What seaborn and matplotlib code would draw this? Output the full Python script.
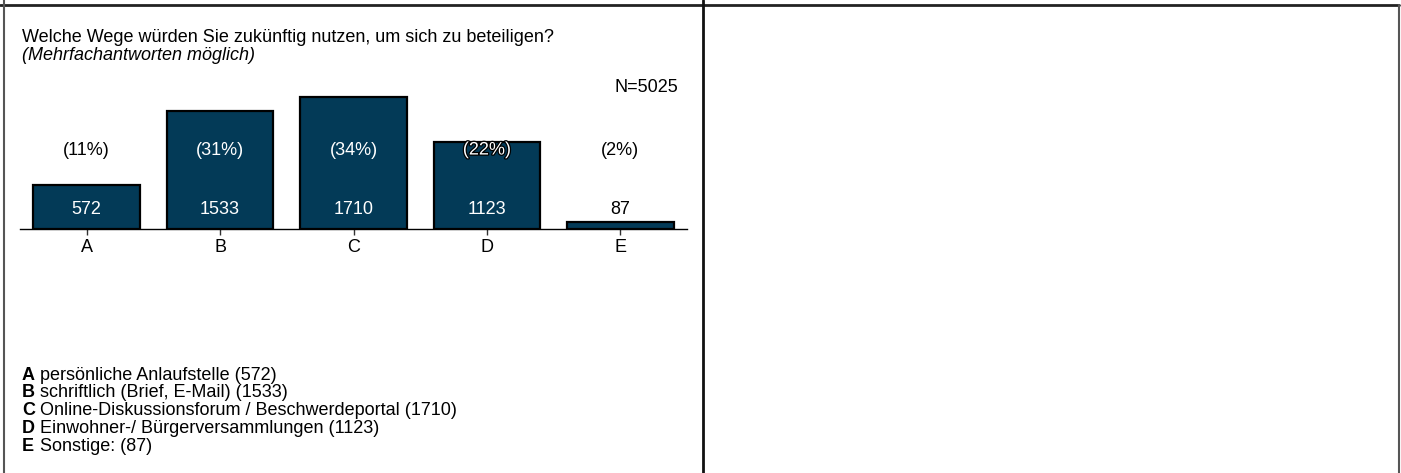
import matplotlib
matplotlib.use("Agg")
import matplotlib.pyplot as plt
import matplotlib.patheffects as pe
import seaborn as sns
import pandas as pd

# ---- data ----
categories = ["A", "B", "C", "D", "E"]
counts = [572, 1533, 1710, 1123, 87]
percent_labels = ["(11%)", "(31%)", "(34%)", "(22%)", "(2%)"]
descriptions = [
    "persönliche Anlaufstelle (572)",
    "schriftlich (Brief, E-Mail) (1533)",
    "Online-Diskussionsforum / Beschwerdeportal (1710)",
    "Einwohner-/ Bürgerversammlungen (1123)",
    "Sonstige: (87)",
]
title_text = "Welche Wege würden Sie zukünftig nutzen, um sich zu beteiligen?"
subtitle_text = "(Mehrfachantworten möglich)"
n_text = "N=5025"

sns.set_theme(style="white")
plt.rcParams["font.family"] = ["Liberation Sans", "DejaVu Sans"]
FS = 13

W, H = 1401, 473
fig = plt.figure(figsize=(W / 100, H / 100), dpi=100)

def fx(px):
    return px / W

def fy(py):
    return 1 - py / H

# frame lines
lines = [
    ((0, W - 2), (5, 5), "#222222", 2.0),
    ((4, 4), (0, H), "#555555", 1.5),
    ((703, 703), (0, H), "#111111", 2.0),
    ((W - 2, W - 2), (5, H), "#555555", 1.5),
]
for (x0, x1), (y0, y1), c, lw in lines:
    fig.add_artist(plt.Line2D([fx(x0), fx(x1)], [fy(y0), fy(y1)],
                              transform=fig.transFigure, color=c, lw=lw))

# axes
ax_left, ax_right = 20, 687
ax_bottom, ax_top = 229, 80
ax = fig.add_axes([fx(ax_left), fy(ax_bottom), fx(ax_right - ax_left), (ax_bottom - ax_top) / H])

df = pd.DataFrame({"cat": categories, "n": counts})
sns.barplot(data=df, x="cat", y="n", color="#033a57", saturation=1,
            edgecolor="black", linewidth=1.6, width=0.8, ax=ax)

ymax = 1930
ax.set_ylim(0, ymax)
ax.set_xlim(-0.5, 4.5)
for s in ["top", "right", "left"]:
    ax.spines[s].set_visible(False)
ax.spines["bottom"].set_color("black")
ax.spines["bottom"].set_linewidth(1.0)
ax.set_yticks([])
ax.set_xlabel("")
ax.set_ylabel("")
ax.tick_params(axis="x", direction="inout", length=8, width=1, color="#333333",
               labelsize=FS, labelcolor="black", pad=3, bottom=True)
ax.patch.set_alpha(0)

count_y = 259
pct_y = 1023
for i, (c, p) in enumerate(zip(counts, percent_labels)):
    col = "white" if c > count_y + 120 else "black"
    ax.text(i, count_y, str(c), ha="center", va="center", fontsize=FS, color=col)
    pcol = "white" if c > pct_y else "black"
    t = ax.text(i, pct_y, p, ha="center", va="center", fontsize=FS, color=pcol)
    if pcol == "white" and c - pct_y < 150:
        t.set_path_effects([pe.withStroke(linewidth=1.8, foreground="black")])

# texts
fig.text(fx(22), fy(37), title_text, ha="left", va="center", fontsize=FS, color="black")
fig.text(fx(22), fy(56), subtitle_text, ha="left", va="center", fontsize=FS,
         style="italic", color="black")
fig.text(fx(678), fy(88), n_text, ha="right", va="center", fontsize=FS, color="black")

leg_y0, leg_dy = 375, 17.8
for i, (c, d) in enumerate(zip(categories, descriptions)):
    y = fy(leg_y0 + i * leg_dy)
    fig.text(fx(22), y, c, ha="left", va="center", fontsize=FS, fontweight="bold", color="black")
    fig.text(fx(40), y, d, ha="left", va="center", fontsize=FS, color="black")

fig.savefig("out.png", dpi=100, facecolor="white")
